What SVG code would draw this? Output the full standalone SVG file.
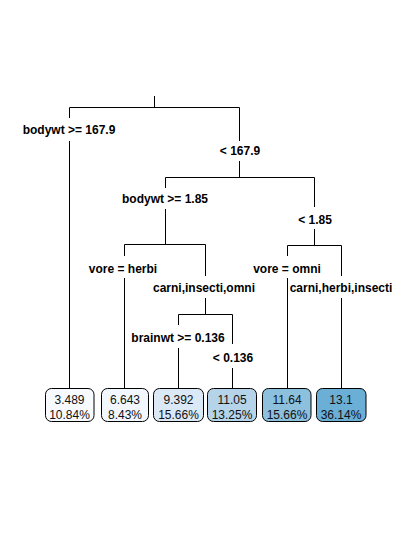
<svg xmlns="http://www.w3.org/2000/svg" width="415" height="533" viewBox="0 0 415 533">
<style>
.lbl{font-family:"Liberation Sans",Arial,sans-serif;font-size:12px;font-weight:bold;fill:#000;text-anchor:middle}
.val{font-family:"Liberation Sans",Arial,sans-serif;font-size:12px;fill:#111;text-anchor:middle}
.box{stroke:#000;stroke-width:1}
.edge{stroke:#000;stroke-width:1;fill:none}
</style>
<rect width="415" height="533" fill="#fff"/>
<g id="connectors">
<path class="edge" d="M154.5 96V107.5M69.5 107.5H239.5M69.5 107.5V118M69.5 141V388M239.5 107.5V141M239.5 161V177.5M165.5 177.5H314.5M165.5 177.5V188M165.5 209V244.5M314.5 177.5V207M314.5 229V245.5M124.5 244.5H205.5M124.5 244.5V256M124.5 278V388M205.5 244.5V276M205.5 298V314.5M178.5 314.5H232.5M178.5 314.5V325M178.5 348V388M232.5 314.5V344M232.5 368V388M287.5 245.5H341.5M287.5 245.5V256M287.5 278V388M341.5 245.5V276M341.5 298V388"/>
</g>
<g id="labels">
<text class="lbl" x="69" y="134">bodywt &gt;= 167.9</text>
<text class="lbl" x="240" y="155">&lt; 167.9</text>
<text class="lbl" x="165" y="203">bodywt &gt;= 1.85</text>
<text class="lbl" x="315" y="224">&lt; 1.85</text>
<text class="lbl" x="123" y="273">vore = herbi</text>
<text class="lbl" x="204" y="292">carni,insecti,omni</text>
<text class="lbl" x="287" y="273">vore = omni</text>
<text class="lbl" x="341" y="292">carni,herbi,insecti</text>
<text class="lbl" x="178" y="342">brainwt &gt;= 0.136</text>
<text class="lbl" x="233" y="362">&lt; 0.136</text>
</g>
<g id="leaf1"><rect class="box" x="45.5" y="388.5" width="48.5" height="33" rx="6" fill="#f7fbff"/><text class="val" x="69.5" y="403.5">3.489</text><text class="val" x="69.5" y="419">10.84%</text></g>
<g id="leaf2"><rect class="box" x="101.5" y="388.5" width="47" height="33" rx="6" fill="#f1f7fd"/><text class="val" x="125" y="403.5">6.643</text><text class="val" x="125" y="419">8.43%</text></g>
<g id="leaf3"><rect class="box" x="153.5" y="388.5" width="50" height="33" rx="6" fill="#dbe9f6"/><text class="val" x="178.5" y="403.5">9.392</text><text class="val" x="178.5" y="419">15.66%</text></g>
<g id="leaf4"><rect class="box" x="207.5" y="388.5" width="49" height="33" rx="6" fill="#b5d4e9"/><text class="val" x="232" y="403.5">11.05</text><text class="val" x="232" y="419">13.25%</text></g>
<g id="leaf5"><rect class="box" x="262.5" y="388.5" width="48.5" height="33" rx="6" fill="#8cc0dd"/><text class="val" x="287" y="403.5">11.64</text><text class="val" x="287" y="419">15.66%</text></g>
<g id="leaf6"><rect class="box" x="316.5" y="388.5" width="49.5" height="33" rx="6" fill="#6baed6"/><text class="val" x="341" y="403.5">13.1</text><text class="val" x="341" y="419">36.14%</text></g>
</svg>
